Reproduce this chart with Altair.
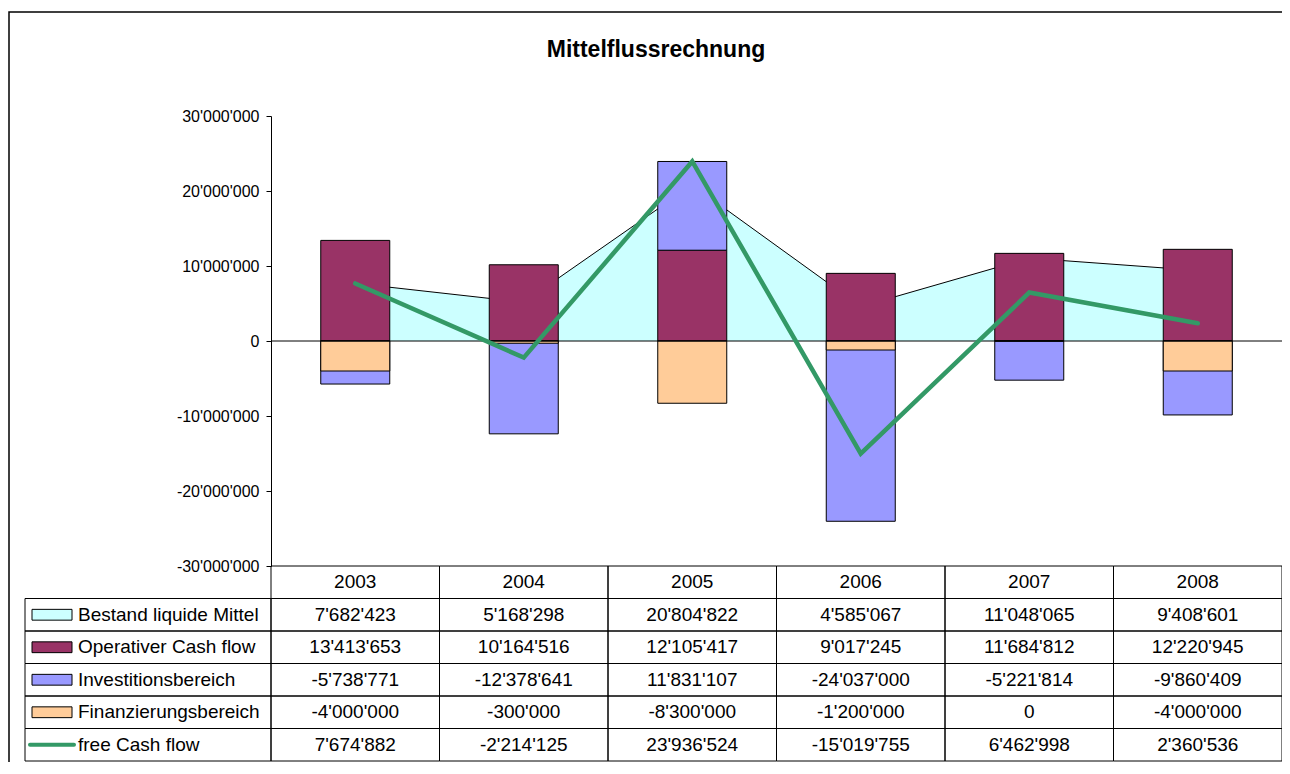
import altair as alt
import pandas as pd

# ---------------- data ----------------
years = ["2003", "2004", "2005", "2006", "2007", "2008"]
bestand = [7682423, 5168298, 20804822, 4585067, 11048065, 9408601]
operativ = [13413653, 10164516, 12105417, 9017245, 11684812, 12220945]
invest = [-5738771, -12378641, 11831107, -24037000, -5221814, -9860409]
finanz = [-4000000, -300000, -8300000, -1200000, 0, -4000000]
fcf = [7674882, -2214125, 23936524, -15019755, 6462998, 2360536]

series_names = ["Bestand liquide Mittel", "Operativer Cash flow", "Investitionsbereich",
                "Finanzierungsbereich", "free Cash flow"]
series_colors = ["#CCFFFF", "#993366", "#9999FF", "#FFCC99", "#339966"]
y_ticks = [-30000000, -20000000, -10000000, 0, 10000000, 20000000, 30000000]
title_text = "Mittelflussrechnung"

FONT = "Liberation Sans"
W, H = 1011, 450
ROW_RANGE = [450, 645]


def fmt(v):
    s = f"{abs(v):,}".replace(",", "'")
    return ("-" if v < 0 else "") + s


series_values = [bestand, operativ, invest, finanz, fcf]

# ---------------- tables built from the arrays ----------------
area_df = pd.DataFrame({"year": years, "value": bestand})

# bars as drawn in the original: operating cash flow from zero; a positive
# investment value sits on top of it, a negative one hangs from zero; the
# financing bar is drawn last, from zero.
bar_rows = []
for i, y in enumerate(years):
    bar_rows.append({"year": y, "series": "Operativer Cash flow", "lo": 0, "hi": operativ[i], "draw": 0})
    base = operativ[i] if invest[i] > 0 else 0
    bar_rows.append({"year": y, "series": "Investitionsbereich", "lo": base, "hi": base + invest[i], "draw": 1})
    bar_rows.append({"year": y, "series": "Finanzierungsbereich", "lo": 0, "hi": finanz[i], "draw": 2})
bar_df = pd.DataFrame(bar_rows)
line_df = pd.DataFrame({"year": years, "value": fcf})

row_domain = ["hdr"] + series_names
cell_rows = []
for y in years:
    cell_rows.append({"year": y, "row": "hdr", "text": y})
for name, vals in zip(series_names, series_values):
    for y, v in zip(years, vals):
        cell_rows.append({"year": y, "row": name, "text": fmt(v)})
cell_df = pd.DataFrame(cell_rows)
label_df = pd.DataFrame({"row": series_names})
key_df = pd.DataFrame({"row": series_names[:4]})
fcf_key_df = pd.DataFrame({"row": series_names[4:]})

# ---------------- scales ----------------
xband = alt.Scale(type="band", domain=years, paddingInner=0, paddingOuter=0)
yq = alt.Scale(domain=[-30000000, 30000000], nice=False, zero=False)
fill_scale = alt.Scale(domain=series_names, range=series_colors)
yrow = alt.Scale(type="band", domain=row_domain, range=ROW_RANGE, paddingInner=0, paddingOuter=0)


def y_axis():
    return alt.Axis(
        values=y_ticks,
        labelExpr="(datum.value < 0 ? '-' : '') + replace(format(abs(datum.value), ','), regexp(',', 'g'), \"'\")",
        grid=False, tickSize=5, labelFontSize=16, labelFont=FONT, labelColor="black",
        domainColor="black", tickColor="black", labelPadding=7, title=None, domainWidth=1,
        tickWidth=1,
    )


# ---------------- plot ----------------
area = alt.Chart(area_df).mark_area(
    color="#CCFFFF", opacity=1, line={"color": "black", "strokeWidth": 1}
).encode(
    x=alt.X("year:N", scale=xband, axis=None, bandPosition=0.5),
    y=alt.Y("value:Q", scale=yq, axis=y_axis()),
)

bars = alt.Chart(bar_df).mark_bar(size=69, stroke="black", strokeWidth=1, opacity=1).encode(
    x=alt.X("year:N", scale=xband, axis=None),
    y=alt.Y("lo:Q", scale=yq, axis=y_axis()),
    y2="hi:Q",
    fill=alt.Fill("series:N", scale=fill_scale, legend=None),
    order=alt.Order("draw:Q"),
)

zero_rule = alt.Chart(pd.DataFrame({"a": [0]})).mark_rule(color="black", strokeWidth=1).encode(
    y=alt.YDatum(0, scale=yq, axis=y_axis()),
    x=alt.value(0),
    x2=alt.value(W + 2),
)

line = alt.Chart(line_df).mark_line(color="#339966", strokeWidth=4.5, strokeCap="round").encode(
    x=alt.X("year:N", scale=xband, axis=None, bandPosition=0.5),
    y=alt.Y("value:Q", scale=yq, axis=y_axis()),
)

plot = alt.layer(area, bars, zero_rule, line)

# ---------------- data table ----------------
grid = alt.Chart(cell_df).mark_rect(fillOpacity=0, stroke="black", strokeWidth=1).encode(
    x=alt.X("year:N", scale=xband, axis=None),
    y=alt.Y("row:N", scale=yrow, axis=None),
)
label_cells = alt.Chart(label_df).mark_rect(fillOpacity=0, stroke="black", strokeWidth=1).encode(
    x=alt.value(-246),
    x2=alt.value(0),
    y=alt.Y("row:N", scale=yrow, axis=None),
)
cell_text = alt.Chart(cell_df).mark_text(fontSize=19, font=FONT, color="black", baseline="middle",
                                          align="center").encode(
    x=alt.X("year:N", scale=xband, axis=None, bandPosition=0.5),
    y=alt.Y("row:N", scale=yrow, axis=None, bandPosition=0.5),
    text="text:N",
)
label_text = alt.Chart(label_df).mark_text(fontSize=19, font=FONT, color="black", baseline="middle",
                                           align="left").encode(
    x=alt.value(-193),
    y=alt.Y("row:N", scale=yrow, axis=None, bandPosition=0.5),
    text="row:N",
)
keys = alt.Chart(key_df).mark_point(
    shape="M-1,-0.27L1,-0.27L1,0.27L-1,0.27Z", size=1600, filled=True, stroke="black",
    strokeWidth=1, opacity=1,
).encode(
    x=alt.value(-219),
    y=alt.Y("row:N", scale=yrow, axis=None, bandPosition=0.5),
    fill=alt.Fill("row:N", scale=fill_scale, legend=None),
)
fcf_key = alt.Chart(fcf_key_df).mark_point(
    shape="M-1,0L1,0", size=1936, filled=False, stroke="#339966", strokeWidth=4,
    strokeCap="round", opacity=1,
).encode(
    x=alt.value(-219),
    y=alt.Y("row:N", scale=yrow, axis=None, bandPosition=0.5),
)

table = alt.layer(grid, label_cells, cell_text, label_text, keys, fcf_key)

# ---------------- decoration ----------------
title = alt.Chart(pd.DataFrame({"t": [title_text]})).mark_text(
    fontSize=23, fontWeight="bold", font=FONT, color="black", align="center", baseline="alphabetic"
).encode(x=alt.value(385), y=alt.value(-59), text="t:N")

# outer frame of the chart (top and left edges; the rest runs off the page)
frame_df = pd.DataFrame({"x": [W + 3, -262, -262], "y": [-104, -104, H + 200], "o": [0, 1, 2]})
frame = alt.Chart(frame_df).mark_line(color="black", strokeWidth=1.5).encode(
    x=alt.X("x:Q", scale=alt.Scale(domain=[0, W], range=[0, W], nice=False, zero=False), axis=None),
    y=alt.Y("y:Q", scale=alt.Scale(domain=[0, H], range=[0, H], nice=False, zero=False), axis=None),
    order="o:Q",
)

chart = alt.layer(frame, plot, table, title).resolve_scale(
    x="independent", y="independent"
).properties(
    width=W,
    height=H,
    autosize=alt.AutoSizeParams(type="none"),
    padding={"left": 263, "top": 108, "right": 0, "bottom": 196},
    background="white",
).configure_view(strokeWidth=0, stroke="transparent").configure_text(font=FONT)

chart.save("out.html", embed_options={"renderer": "svg", "actions": False})
